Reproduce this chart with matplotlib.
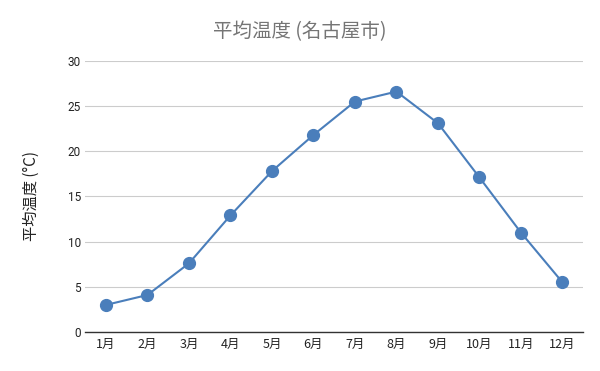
import matplotlib
matplotlib.use("Agg")
import matplotlib.pyplot as plt

plt.rcParams['font.family'] = ['Noto Sans CJK JP', 'DejaVu Sans']

months = ['1月', '2月', '3月', '4月', '5月', '6月', '7月', '8月', '9月', '10月', '11月', '12月']
temps = [3.0, 4.1, 7.6, 12.9, 17.8, 21.8, 25.5, 26.6, 23.1, 17.1, 11.0, 5.5]
yticks = [0, 5, 10, 15, 20, 25, 30]

fig = plt.figure(figsize=(6, 3.71), dpi=100)
ax = fig.add_axes([0.142, 0.105, 0.830, 0.731])

x = list(range(len(months)))
ax.plot(x, temps, color='#4a7ebb', linewidth=1.5, marker='o', markersize=8.5, zorder=3)

ax.set_xlim(-0.5, len(months) - 0.5)
ax.set_ylim(0, 30)
ax.set_yticks(yticks)
ax.set_yticklabels([str(v) for v in yticks], fontsize=8.5, color='#222222', family=['Roboto', 'DejaVu Sans'])
ax.set_xticks(x)
ax.set_xticklabels(months, fontsize=9, color='#222222')
ax.tick_params(axis='y', length=0, pad=3)
ax.tick_params(axis='x', length=0, pad=4)
ax.grid(axis='y', color='#cccccc', linewidth=0.8)
ax.set_axisbelow(True)
for s in ['top', 'right', 'left']:
    ax.spines[s].set_visible(False)
ax.spines['bottom'].set_color('#333333')
ax.spines['bottom'].set_linewidth(1.0)

ax.set_ylabel('平均温度 (°C)', fontsize=11, color='#222222', labelpad=20)
fig.text(0.5, 0.914, '平均温度 (名古屋市)', fontsize=14, color='#757575', ha='center', va='center')

fig.savefig('out.png', dpi=100)
